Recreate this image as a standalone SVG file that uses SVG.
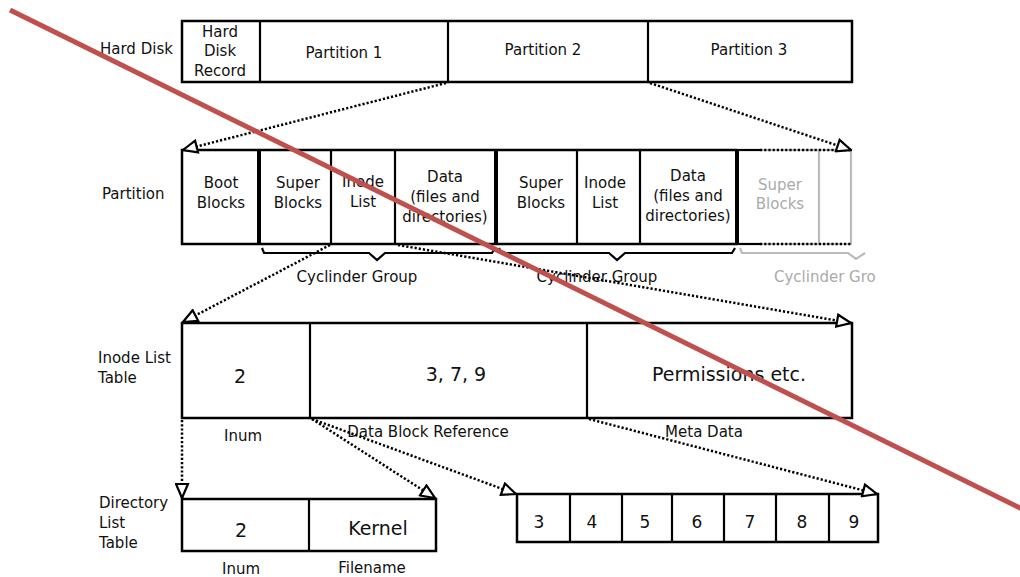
<svg xmlns="http://www.w3.org/2000/svg" width="1020" height="577" viewBox="0 0 1020 577">
  <style>
    text { font-family: "DejaVu Sans", "Liberation Sans", sans-serif; fill: #111; font-size: 15px; text-anchor: middle; }
    .lbl { text-anchor: start; }
    .big { font-size: 19px; }
    .mid { font-size: 17px; }
    .box { fill: #fff; stroke: #000; stroke-width: 2.5; }
    .div { stroke: #000; stroke-width: 2.2; fill: none; }
    .thick { stroke: #000; stroke-width: 4; fill: none; }
    .ghost { stroke: #bbb; stroke-width: 2.2; fill: none; }
    .ghost-t { fill: #aaa; }
    .brace { stroke: #000; stroke-width: 2.2; fill: none; stroke-linejoin: miter; }
    .link { stroke: #000; stroke-width: 2.5; stroke-dasharray: 2.2 2; fill: none; marker-end: url(#open-tri); }
    .dots { stroke: #000; stroke-width: 2.5; stroke-dasharray: 2.2 2; fill: none; }
  </style>
  <defs>
    <marker id="open-tri" viewBox="0 0 17 15" refX="15.5" refY="7.5" markerWidth="17" markerHeight="15" markerUnits="userSpaceOnUse" orient="auto">
      <path d="M1.5,1.5 L15.5,7.5 L1.5,13.5 z" fill="#fff" stroke="#000" stroke-width="2.2"/>
    </marker>
  </defs>
  <rect width="1020" height="577" fill="#fff"/>

  <!-- Hard disk -->
  <g id="hard-disk">
    <text class="lbl" x="100" y="54">Hard Disk</text>
    <rect class="box" x="182" y="21" width="670" height="61"/>
    <line class="div" x1="260" y1="21" x2="260" y2="82"/>
    <line class="div" x1="448" y1="21" x2="448" y2="82"/>
    <line class="div" x1="648" y1="21" x2="648" y2="82"/>
    <text x="220" y="37">Hard</text>
    <text x="220" y="56">Disk</text>
    <text x="220" y="76">Record</text>
    <text x="344" y="58">Partition 1</text>
    <text x="543" y="55">Partition 2</text>
    <text x="749" y="55">Partition 3</text>
  </g>

  <!-- Partition -->
  <g id="partition">
    <text class="lbl" x="102" y="199">Partition</text>
    <rect x="737" y="150" width="115" height="94" fill="#fff" stroke="none"/>
    <line class="ghost" x1="819" y1="150" x2="819" y2="244"/>
    <line class="ghost" x1="851" y1="150" x2="851" y2="244"/>
    <line class="ghost" x1="737" y1="150" x2="852" y2="150"/>
    <line class="ghost" x1="737" y1="244" x2="852" y2="244"/>
    <line class="div" x1="737" y1="150" x2="760" y2="150"/>
    <line class="div" x1="737" y1="244" x2="760" y2="244"/>
    <line class="dots" x1="760" y1="150" x2="852" y2="150"/>
    <line class="dots" x1="760" y1="244" x2="852" y2="244"/>
    <path class="box" d="M737,150 H182 V244 H737"/>
    <line class="thick" x1="259" y1="150" x2="259" y2="244"/>
    <line class="div" x1="331" y1="150" x2="331" y2="244"/>
    <line class="div" x1="395" y1="150" x2="395" y2="244"/>
    <line class="thick" x1="496" y1="150" x2="496" y2="244"/>
    <line class="div" x1="577" y1="150" x2="577" y2="244"/>
    <line class="div" x1="640" y1="150" x2="640" y2="244"/>
    <line class="thick" x1="737" y1="150" x2="737" y2="244"/>
    <text x="221" y="188">Boot</text>
    <text x="221" y="208">Blocks</text>
    <text x="298" y="188">Super</text>
    <text x="298" y="208">Blocks</text>
    <text x="363" y="187">Inode</text>
    <text x="363" y="207">List</text>
    <text x="445" y="182">Data</text>
    <text x="445" y="202">(files and</text>
    <text x="445" y="222">directories)</text>
    <text x="541" y="188">Super</text>
    <text x="541" y="208">Blocks</text>
    <text x="605" y="188">Inode</text>
    <text x="605" y="208">List</text>
    <text x="688" y="181">Data</text>
    <text x="688" y="201">(files and</text>
    <text x="688" y="221">directories)</text>
    <text class="ghost-t" x="780" y="190">Super</text>
    <text class="ghost-t" x="780" y="209">Blocks</text>
  </g>

  <!-- Cylinder group braces -->
  <g id="cylinder-groups">
    <path class="brace" d="M262,248 L264,253 H369 L377,260 L385,253 H492 L495,248"/>
    <text x="357" y="282">Cyclinder Group</text>
    <path class="brace" d="M499,248 L501,253 H609 L617,260 L625,253 H732 L735,248"/>
    <text x="597" y="282">Cyclinder Group</text>
    <path class="ghost" d="M740,248 L742,253 H848 L856,259 L865,253"/>
    <text class="ghost-t lbl" x="774" y="282">Cyclinder Gro</text>
  </g>

  <!-- Inode list table -->
  <g id="inode-list-table">
    <text class="lbl" x="98" y="363">Inode List</text>
    <text class="lbl" x="98" y="383">Table</text>
    <rect class="box" x="182" y="323" width="670" height="95"/>
    <line class="div" x1="310" y1="323" x2="310" y2="418"/>
    <line class="div" x1="587" y1="323" x2="587" y2="418"/>
    <text class="big" x="240" y="383">2</text>
    <text class="big" x="456" y="381">3, 7, 9</text>
    <text class="big" x="729" y="381">Permissions etc.</text>
    <text x="243" y="441">Inum</text>
    <text x="428" y="437">Data Block Reference</text>
    <text x="704" y="437">Meta Data</text>
  </g>

  <!-- Directory list table -->
  <g id="directory-list-table">
    <text class="lbl" x="99" y="508">Directory</text>
    <text class="lbl" x="99" y="528">List</text>
    <text class="lbl" x="99" y="548">Table</text>
    <rect class="box" x="182" y="499" width="254" height="52"/>
    <line class="div" x1="309" y1="499" x2="309" y2="551"/>
    <text class="big" x="241" y="537">2</text>
    <text class="big" x="378" y="535">Kernel</text>
    <text x="241" y="574">Inum</text>
    <text x="372" y="573">Filename</text>
  </g>

  <!-- Data blocks -->
  <g id="data-blocks">
    <rect class="box" x="517" y="494" width="361" height="48"/>
    <line class="div" x1="570" y1="494" x2="570" y2="542"/>
    <line class="div" x1="622" y1="494" x2="622" y2="542"/>
    <line class="div" x1="672" y1="494" x2="672" y2="542"/>
    <line class="div" x1="724" y1="494" x2="724" y2="542"/>
    <line class="div" x1="776" y1="494" x2="776" y2="542"/>
    <line class="div" x1="829" y1="494" x2="829" y2="542"/>
    <text class="mid" x="539" y="528">3</text>
    <text class="mid" x="592" y="528">4</text>
    <text class="mid" x="645" y="528">5</text>
    <text class="mid" x="697" y="528">6</text>
    <text class="mid" x="750" y="528">7</text>
    <text class="mid" x="802" y="528">8</text>
    <text class="mid" x="854" y="528">9</text>
  </g>

  <!-- Connectors -->
  <g id="connectors">
    <line class="link" x1="446" y1="83" x2="183" y2="150"/>
    <line class="link" x1="650" y1="83" x2="851" y2="150"/>
    <line class="link" x1="330" y1="245" x2="183" y2="322"/>
    <line class="link" x1="398" y1="245" x2="851" y2="323"/>
    <line class="link" x1="182" y1="420" x2="182" y2="498"/>
    <line class="link" x1="312" y1="419" x2="435" y2="498"/>
    <line class="link" x1="312" y1="419" x2="516" y2="494"/>
    <line class="link" x1="589" y1="419" x2="877" y2="494"/>
  </g>

  <!-- Strike-through -->
  <line x1="10" y1="10" x2="1022" y2="509" stroke="#c0504d" stroke-width="5"/>
</svg>
